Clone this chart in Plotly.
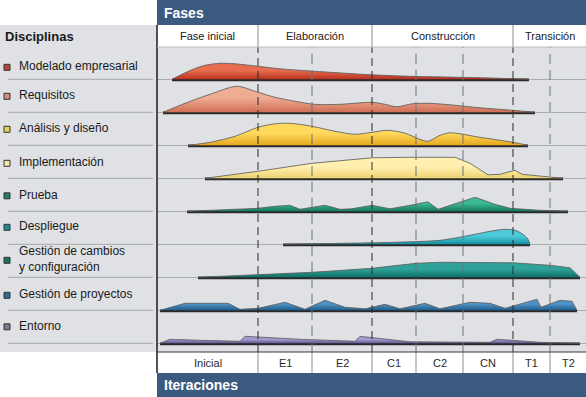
import plotly.graph_objects as go

# ---------------- data ----------------
disciplinas = ["Modelado empresarial", "Requisitos", "Análisis y diseño", "Implementación",
               "Prueba", "Despliegue", "Gestión de cambios<br>y configuración",
               "Gestión de proyectos", "Entorno"]

fases = ["Fase inicial", "Elaboración", "Construcción", "Transición"]
fase_bordes = [157, 258, 372, 513, 586]

iteraciones = ["Inicial", "E1", "E2", "C1", "C2", "CN", "T1", "T2"]
iter_bordes = [157, 258, 312, 372, 416, 463, 513, 550, 586]

modelado_x = [172, 182, 193, 205, 220, 235, 258, 280, 300, 330, 372, 410, 450, 490, 529]
modelado_h = [0, 5, 10, 14, 16, 15.5, 13, 10.5, 9, 7, 4.5, 3, 2.2, 1.3, 0]

requisitos_x = [163, 185, 210, 237, 258, 275, 295, 315, 340, 372, 385, 397, 412, 428, 450, 480, 513, 535]
requisitos_h = [0, 9, 18, 26, 20, 15, 11, 8, 8, 10, 8, 5.5, 8.5, 9, 7.5, 4.5, 2, 0]

analisis_x = [188, 210, 235, 258, 275, 290, 312, 335, 355, 372, 388, 405, 420, 428, 440, 450, 480, 513, 528]
analisis_h = [0, 3, 9, 18, 21.5, 22, 19, 14, 11, 13, 15, 12, 6, 4, 10, 12.5, 8, 3, 0]

implementacion_x = [205, 258, 312, 372, 410, 455, 470, 488, 500, 515, 522, 535, 563]
implementacion_h = [0, 7, 15, 20.5, 21, 21, 15, 3.5, 4, 8, 4, 2.5, 0]

prueba_x = [187, 258, 275, 290, 300, 325, 340, 352, 372, 390, 410, 428, 438, 475, 495, 510, 540, 568]
prueba_h = [0, 3, 5, 6, 2, 6, 2, 2.5, 6, 2.5, 6, 9.5, 2, 14, 7, 3, 1, 0]

despliegue_x = [283, 330, 372, 410, 440, 470, 490, 505, 515, 523, 528, 530]
despliegue_h = [0, 0.8, 1.5, 2.5, 4, 9, 13, 15, 14, 10, 5, 0]

cambios_x = [198, 258, 312, 372, 416, 440, 480, 513, 550, 570, 580]
cambios_h = [0, 3, 5, 9, 14, 15, 15, 14.5, 12, 9.5, 0]

proyectos_x = [160, 185, 228, 240, 258, 285, 305, 325, 345, 365, 385, 400, 425, 440,
               470, 490, 505, 520, 537, 541, 560, 572, 577]
proyectos_h = [0, 7, 7, 1, 2, 8, 1, 10, 3, 1.5, 6, 1.5, 7, 1.5, 8, 7, 2, 6, 11, 3, 10, 9, 0]

entorno_x = [160, 170, 200, 240, 245, 300, 355, 360, 410, 490, 497, 540, 580]
entorno_h = [0, 4, 3, 2, 7, 4, 2, 7, 1.5, 1, 4, 1, 0]

# ---------------- styles ----------------
series_x = [modelado_x, requisitos_x, analisis_x, implementacion_x, prueba_x,
            despliegue_x, cambios_x, proyectos_x, entorno_x]
series_h = [modelado_h, requisitos_h, analisis_h, implementacion_h, prueba_h,
            despliegue_h, cambios_h, proyectos_h, entorno_h]
shapes_linea = ["spline", "spline", "spline", "linear", "linear", "spline", "linear", "linear", "linear"]
fill_dark = ["#b8321f", "#cf6f55", "#e6a81c", "#eed270", "#137a5c", "#168f9f", "#0f6f66", "#1f5c8a", "#5d5590"]
fill_light = ["#e86d50", "#f0ab93", "#ffd95e", "#fff0b0", "#3cb894", "#4ccad8", "#2fa399", "#4f92c4", "#a69bd0"]
marker_colors = ["#b8453c", "#d69080", "#ecd157", "#f4e6a6", "#1f7f66", "#1f8791", "#1c6f61", "#2d6c92", "#7b7a93"]
label_offsets = [12, 16, 16, 15, 15.5, 17, 17, 15, 16.5]

W, H = 586, 397
FONT = "Liberation Sans, Arial, sans-serif"
BG = "#dfe1e5"
BLUE = "#3b5a80"
ROW = 33
TOP_BASE = 272.7  # axis units of first baseline (axis 0 = bottom of chart area)
bases = [TOP_BASE - ROW * i for i in range(len(disciplinas))]


def py(p):
    return (H - p) / H


fig = go.Figure()

for i in range(len(disciplinas)):
    xs, hs, b = series_x[i], series_h[i], bases[i]
    # dark base line
    fig.add_trace(go.Scatter(x=[xs[0], xs[-1]], y=[b - 0.6, b - 0.6], mode="lines",
                             line=dict(color="#2a2a2a", width=2.6), hoverinfo="skip",
                             showlegend=False))
    fig.add_trace(go.Scatter(x=[xs[0], xs[-1]], y=[b, b], mode="lines",
                             line=dict(width=0), hoverinfo="skip", showlegend=False))
    fig.add_trace(go.Scatter(
        x=xs, y=[b + h for h in hs], mode="lines", fill="tonexty",
        line=dict(color="rgba(95,95,95,0.85)", width=1, shape=shapes_linea[i], smoothing=0.8),
        fillgradient=dict(type="vertical",
                          colorscale=[[0, fill_dark[i]], [0.55, fill_light[i]], [1, fill_light[i]]]),
        name=disciplinas[i], showlegend=False, hoverinfo="skip"))

# left legend column
fig.add_trace(go.Scatter(x=[7] * len(disciplinas), y=[b + o for b, o in zip(bases, label_offsets)],
                         xaxis="x2", yaxis="y2", mode="markers",
                         marker=dict(symbol="square", size=6, color=marker_colors,
                                     line=dict(color="#333", width=1)),
                         showlegend=False, hoverinfo="skip", cliponaxis=False))
fig.add_trace(go.Scatter(x=[19] * len(disciplinas), y=[b + o for b, o in zip(bases, label_offsets)],
                         xaxis="x2", yaxis="y2", mode="text", text=disciplinas,
                         textposition="middle right",
                         textfont=dict(family=FONT, size=12, color="#1a1a1a"),
                         showlegend=False, hoverinfo="skip", cliponaxis=False))

shapes = []
# left gray panel
shapes.append(dict(type="rect", xref="paper", yref="paper", x0=0, x1=157 / W, y0=py(352), y1=py(25),
                   fillcolor=BG, line=dict(width=0), layer="below"))
# blue bars
shapes.append(dict(type="rect", xref="paper", yref="paper", x0=157 / W, x1=1, y0=py(25), y1=1,
                   fillcolor=BLUE, line=dict(width=0), layer="below"))
shapes.append(dict(type="rect", xref="paper", yref="paper", x0=157 / W, x1=1, y0=0, y1=py(373),
                   fillcolor=BLUE, line=dict(width=0), layer="below"))
# left separator lines
for b in bases:
    shapes.append(dict(type="line", xref="x2", yref="y2", x0=8, x1=153, y0=b, y1=b,
                       line=dict(color="#a3a7ac", width=1), layer="below"))
# dashed iteration lines
for xb in iter_bordes[1:-1]:
    fase = xb in fase_bordes
    shapes.append(dict(type="line", xref="x", yref="paper", x0=xb, x1=xb, y0=py(352), y1=py(47),
                       line=dict(color="#2a2a2a" if fase else "#6f7276", width=1,
                                 dash="8px,5px" if fase else "10px,6px")))
    shapes.append(dict(type="line", xref="x", yref="paper", x0=xb, x1=xb, y0=py(373), y1=py(352),
                       line=dict(color="#8a8d91", width=1)))
for xb in fase_bordes[1:-1]:
    shapes.append(dict(type="line", xref="x", yref="paper", x0=xb, x1=xb, y0=py(47), y1=py(25),
                       line=dict(color="#8a8d91", width=1)))
# frame lines
shapes.append(dict(type="line", xref="paper", yref="paper", x0=157 / W, x1=157 / W, y0=py(373), y1=py(25),
                   line=dict(color="#1a1a1a", width=1.5)))
shapes.append(dict(type="line", xref="paper", yref="paper", x0=157 / W, x1=1, y0=py(352), y1=py(352),
                   line=dict(color="#3a3a3a", width=1.2)))
shapes.append(dict(type="line", xref="paper", yref="paper", x0=157 / W, x1=1, y0=py(47), y1=py(47),
                   line=dict(color="#b8bbbf", width=1)))

annotations = []
annotations.append(dict(xref="paper", yref="paper", x=162 / W, y=py(13), text="<b>Fases</b>",
                        showarrow=False, xanchor="left", yanchor="middle",
                        font=dict(family=FONT, size=14, color="white")))
annotations.append(dict(xref="paper", yref="paper", x=162 / W, y=py(385), text="<b>Iteraciones</b>",
                        showarrow=False, xanchor="left", yanchor="middle",
                        font=dict(family=FONT, size=14, color="white")))
annotations.append(dict(xref="paper", yref="paper", x=3 / W, y=py(36.5), text="<b>Disciplinas</b>",
                        showarrow=False, xanchor="left", yanchor="middle",
                        font=dict(family=FONT, size=13, color="#1a1a1a")))
for j, f in enumerate(fases):
    annotations.append(dict(xref="x", yref="paper", x=(fase_bordes[j] + fase_bordes[j + 1]) / 2,
                            y=py(36), text=f, showarrow=False, yanchor="middle",
                            font=dict(family=FONT, size=11, color="#1a1a1a")))
for j, it in enumerate(iteraciones):
    annotations.append(dict(xref="x", yref="paper", x=(iter_bordes[j] + iter_bordes[j + 1]) / 2,
                            y=py(362.5), text=it, showarrow=False, yanchor="middle",
                            font=dict(family=FONT, size=11, color="#2a2a2a")))

fig.update_layout(
    width=W, height=H, margin=dict(l=0, r=0, t=0, b=0),
    paper_bgcolor="white", plot_bgcolor=BG,
    xaxis=dict(domain=[157 / W, 1], range=[157, 586], visible=False, fixedrange=True),
    yaxis=dict(domain=[py(352), py(47)], range=[0, 305], tickvals=bases, showgrid=True,
               gridcolor="#a9adb2", gridwidth=1, showticklabels=False, ticks="",
               zeroline=False, showline=False, fixedrange=True),
    xaxis2=dict(domain=[0, 157 / W], range=[0, 157], visible=False, anchor="y2", fixedrange=True),
    yaxis2=dict(domain=[py(352), py(47)], range=[0, 305], visible=False, anchor="x2", fixedrange=True),
    shapes=shapes, annotations=annotations, showlegend=False,
)

fig.write_html("out.html", config={"displayModeBar": False},
               post_script="document.body.style.margin='0';document.body.style.overflow='hidden';")
